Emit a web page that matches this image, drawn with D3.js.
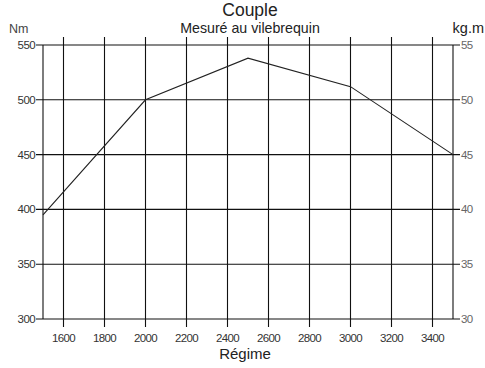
<!DOCTYPE html>
<html>
<head>
<meta charset="utf-8">
<script src="https://cdn.jsdelivr.net/npm/d3@7"></script>
<style>
body { margin: 0; background: #fff; }
text { font-family: "Liberation Sans", Arial, sans-serif; }
</style>
</head>
<body>
<div class="canvas"></div>
<script>
const regime = [1500, 2000, 2500, 3000, 3500]
const couple = [395, 500, 538, 512, 450]
const xTicks = [1600, 1800, 2000, 2200, 2400, 2600, 2800, 3000, 3200, 3400]
const nmTicks = [300, 350, 400, 450, 500, 550]
const kgmTicks = [30, 35, 40, 45, 50, 55]

const width = 485, height = 368
const margin = {top: 45, right: 32, bottom: 49, left: 43}
const graphWidth = width - margin.left - margin.right
const graphHeight = height - margin.top - margin.bottom

const svg = d3.select(".canvas")
  .append("svg")
  .attr("width", width)
  .attr("height", height)

const graph = svg.append("g")
  .attr("transform", `translate(${margin.left}, ${margin.top})`)

const xScale = d3.scaleLinear().domain([1500, 3500]).range([0, graphWidth])
const yScale = d3.scaleLinear().domain([300, 550]).range([graphHeight, 0])
const yScale2 = d3.scaleLinear().domain([30, 55]).range([graphHeight, 0])

// vertical grid lines, sticking out a bit top and bottom
graph.append("g")
  .selectAll("line")
  .data(xTicks)
  .enter().append("line")
  .attr("x1", d => xScale(d)).attr("x2", d => xScale(d))
  .attr("y1", -8).attr("y2", graphHeight + 8)
  .attr("stroke", "#111").attr("stroke-width", 1.1)

// frame sides
graph.append("g")
  .selectAll("line")
  .data([1500, 3500])
  .enter().append("line")
  .attr("x1", d => xScale(d)).attr("x2", d => xScale(d))
  .attr("y1", 0).attr("y2", graphHeight)
  .attr("stroke", "#111").attr("stroke-width", 1.1)

// horizontal grid lines
graph.append("g")
  .selectAll("line")
  .data(nmTicks)
  .enter().append("line")
  .attr("x1", -7).attr("x2", graphWidth + 7)
  .attr("y1", d => yScale(d)).attr("y2", d => yScale(d))
  .attr("stroke", "#111").attr("stroke-width", 1.1)

// left labels
graph.append("g")
  .selectAll("text")
  .data(nmTicks)
  .enter().append("text")
  .attr("x", -8).attr("y", d => yScale(d) + 4)
  .attr("text-anchor", "end")
  .attr("font-size", 11.5).attr("letter-spacing", -0.6)
  .attr("fill", "#333")
  .text(d => d)

// right labels
graph.append("g")
  .selectAll("text")
  .data(kgmTicks)
  .enter().append("text")
  .attr("x", graphWidth + 8).attr("y", d => yScale2(d) + 4)
  .attr("font-size", 11.5).attr("letter-spacing", -0.6)
  .attr("fill", "#666")
  .text(d => d)

// bottom labels
graph.append("g")
  .selectAll("text")
  .data(xTicks)
  .enter().append("text")
  .attr("x", d => xScale(d)).attr("y", graphHeight + 23)
  .attr("text-anchor", "middle")
  .attr("font-size", 11.5).attr("letter-spacing", -0.6)
  .attr("fill", "#333")
  .text(d => d)

// the curve
const points = regime.map((r, i) => ({r: r, c: couple[i]}))
const lineGenerator = d3.line().x(d => xScale(d.r)).y(d => yScale(d.c))
graph.append("path")
  .attr("d", lineGenerator(points))
  .attr("fill", "none")
  .attr("stroke", "#222")
  .attr("stroke-width", 1.1)

// titles
svg.append("text")
  .attr("x", 250).attr("y", 16)
  .attr("text-anchor", "middle")
  .attr("font-size", 17.5).attr("fill", "#222")
  .text("Couple")

svg.append("text")
  .attr("x", 250).attr("y", 33)
  .attr("text-anchor", "middle")
  .attr("font-size", 14.2).attr("fill", "#222")
  .text("Mesuré au vilebrequin")

svg.append("text")
  .attr("x", 9).attr("y", 33)
  .attr("font-size", 12.5).attr("fill", "#444")
  .text("Nm")

svg.append("text")
  .attr("x", 484).attr("y", 33)
  .attr("text-anchor", "end")
  .attr("font-size", 14.5).attr("fill", "#222")
  .text("kg.m")

svg.append("text")
  .attr("x", 245).attr("y", 359)
  .attr("text-anchor", "middle")
  .attr("font-size", 15).attr("fill", "#222")
  .text("Régime")
</script>
</body>
</html>
